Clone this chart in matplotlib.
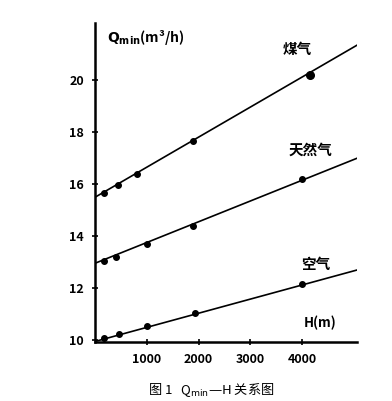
import numpy as np
import matplotlib
matplotlib.use("Agg")
import matplotlib.pyplot as plt

plt.rcParams['font.family'] = ['Noto Sans CJK SC', 'DejaVu Sans']

# H (m) and Qmin (m3/h)
h_coal = [175, 450, 820, 1900, 4150]
q_coal = [15.65, 15.96, 16.4, 17.65, 20.2]
h_nat = [175, 410, 1000, 1900, 4000]
q_nat = [13.04, 13.2, 13.7, 14.4, 16.2]
h_air = [175, 460, 1000, 1930, 4000]
q_air = [10.1, 10.25, 10.55, 11.05, 12.15]

# fitted lines run from the axis to the right edge
line_coal = ([0, 5050], [15.5, 21.35])
line_nat = ([0, 5050], [12.96, 17.0])
line_air = ([0, 5050], [9.95, 12.7])

labels = ['煤气', '天然气', '空气']
label_pos = [(3900, 21.2), (4150, 17.35), (4250, 12.95)]

xticks = [1000, 2000, 3000, 4000]
yticks = [10, 12, 14, 16, 18, 20]

fig = plt.figure(figsize=(3.92, 4.01), dpi=100)
ax = fig.add_axes([0.242, 0.147, 0.668, 0.795])

for ln in (line_coal, line_nat, line_air):
    ax.plot(ln[0], ln[1], 'k-', lw=1.2)
for h, q in ((h_coal, q_coal), (h_nat, q_nat), (h_air, q_air)):
    ax.plot(h, q, 'ko', ms=4)
ax.plot(h_coal[-1], q_coal[-1], 'ko', ms=5.5)

for t, (x, y) in zip(labels, label_pos):
    ax.text(x, y, t, fontsize=10.5, fontweight='bold', ha='center', va='center')

ax.text(4350, 10.65, 'H(m)', fontsize=9.5, fontweight='bold', ha='center', va='center')
ax.text(230, 21.65, r'$\mathbf{Q_{min}}$(m³/h)', fontsize=10, fontweight='bold',
        ha='left', va='center')

ax.set_xlim(0, 5050)
ax.set_ylim(9.93, 22.2)
ax.set_xticks(xticks)
ax.set_yticks(yticks)
ax.set_xticklabels([str(v) for v in xticks], fontsize=9, fontweight='bold')
ax.set_yticklabels([str(v) for v in yticks], fontsize=9, fontweight='bold')
ax.tick_params(direction='inout', length=4, width=1.2, pad=6)
for s in ('top', 'right'):
    ax.spines[s].set_visible(False)
for s in ('left', 'bottom'):
    ax.spines[s].set_linewidth(1.8)

fig.text(0.54, 0.027, '图 1   Q$_{\\min}$—H 关系图', fontsize=9.5, ha='center', va='center')

fig.savefig('out.png', dpi=100)
